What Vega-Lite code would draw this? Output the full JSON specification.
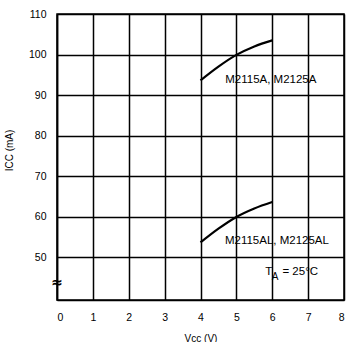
{
  "$schema": "https://vega.github.io/schema/vega-lite/v6.json",
  "autosize": "none",
  "width": 287,
  "height": 286,
  "padding": {"left": 57, "top": 14, "right": 2, "bottom": 42},
  "background": "white",
  "config": {
    "view": {"stroke": "black", "strokeWidth": 1.5},
    "font": "Liberation Sans",
    "axis": {
      "labelFont": "Liberation Sans",
      "titleFont": "Liberation Sans",
      "labelFontSize": 10.5,
      "labelColor": "black",
      "titleColor": "black",
      "titleFontSize": 10,
      "titleFontWeight": "normal",
      "ticks": false,
      "domainColor": "black",
      "domainWidth": 1.5,
      "gridColor": "black",
      "gridWidth": 1.5,
      "gridOpacity": 1,
      "labelOverlap": false
    }
  },
  "datasets": {
    "curves": [
      {"series": "M2115A, M2125A", "vcc": 4.0, "icc": 93.6},
      {"series": "M2115A, M2125A", "vcc": 4.5, "icc": 97.0},
      {"series": "M2115A, M2125A", "vcc": 5.0, "icc": 99.9},
      {"series": "M2115A, M2125A", "vcc": 5.5, "icc": 102.0},
      {"series": "M2115A, M2125A", "vcc": 6.0, "icc": 103.5},
      {"series": "M2115AL, M2125AL", "vcc": 4.0, "icc": 53.6},
      {"series": "M2115AL, M2125AL", "vcc": 4.5, "icc": 57.0},
      {"series": "M2115AL, M2125AL", "vcc": 5.0, "icc": 59.9},
      {"series": "M2115AL, M2125AL", "vcc": 5.5, "icc": 62.0},
      {"series": "M2115AL, M2125AL", "vcc": 6.0, "icc": 63.6}
    ],
    "labels": [
      {"label": "M2115A, M2125A", "vcc": 5.96, "icc": 93.8},
      {"label": "M2115AL, M2125AL", "vcc": 6.13, "icc": 53.9},
      {"label": "T", "vcc": 5.9, "icc": 46.3},
      {"label": "= 25°C", "vcc": 6.78, "icc": 46.3}
    ],
    "sub": [
      {"label": "A", "vcc": 6.08, "icc": 45.2}
    ],
    "brk": [
      {"label": "≈", "vcc": 0, "icc": 43.6}
    ]
  },
  "encoding": {
    "x": {
      "field": "vcc", "type": "quantitative",
      "scale": {"domain": [0, 8], "nice": false, "zero": false},
      "axis": {
        "title": "Vcc (V)",
        "values": [0, 1, 2, 3, 4, 5, 6, 7, 8],
        "labelPadding": 12,
        "titleY": 33,
        "titleBaseline": "top",
        "grid": true
      }
    },
    "y": {
      "field": "icc", "type": "quantitative",
      "scale": {"domain": [39.4, 110], "nice": false, "zero": false},
      "axis": {
        "title": "ICC (mA)",
        "values": [50, 60, 70, 80, 90, 100, 110],
        "labelPadding": 11,
        "titleX": -43,
        "titleY": 136,
        "grid": true
      }
    }
  },
  "layer": [
    {
      "data": {"name": "curves"},
      "mark": {"type": "line", "color": "black", "strokeWidth": 2.2, "interpolate": "monotone"},
      "encoding": {"detail": {"field": "series"}}
    },
    {
      "data": {"name": "labels"},
      "mark": {"type": "text", "fontSize": 11.5, "align": "center", "baseline": "middle", "color": "black"},
      "encoding": {"text": {"field": "label"}}
    },
    {
      "data": {"name": "sub"},
      "mark": {"type": "text", "fontSize": 10, "align": "center", "baseline": "middle", "color": "black"},
      "encoding": {"text": {"field": "label"}}
    },
    {
      "data": {"name": "brk"},
      "mark": {"type": "text", "font": "DejaVu Sans", "fontSize": 14, "fontWeight": "bold", "align": "center", "baseline": "middle", "color": "black"},
      "encoding": {"text": {"field": "label"}}
    }
  ]
}
